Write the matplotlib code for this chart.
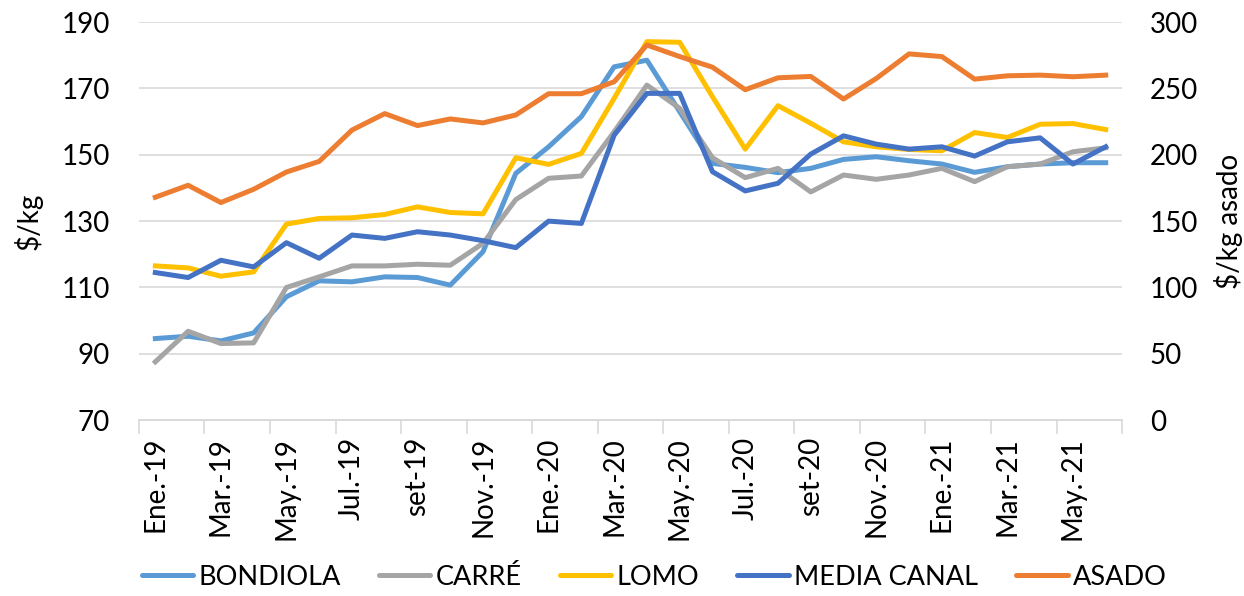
import matplotlib.pyplot as plt
import numpy as np

plt.rcParams['font.family'] = ['Lato', 'DejaVu Sans']

months = ["Ene.-19", "Feb.-19", "Mar.-19", "Abr.-19", "May.-19", "Jun.-19",
          "Jul.-19", "Ago.-19", "set-19", "Oct.-19", "Nov.-19", "Dic.-19",
          "Ene.-20", "Feb.-20", "Mar.-20", "Abr.-20", "May.-20", "Jun.-20",
          "Jul.-20", "Ago.-20", "set-20", "Oct.-20", "Nov.-20", "Dic.-20",
          "Ene.-21", "Feb.-21", "Mar.-21", "Abr.-21", "May.-21", "Jun.-21"]

bondiola = [94.6, 95.3, 93.9, 96.3, 107.2, 112.0, 111.7, 113.2, 113.0, 110.7,
            120.8, 144.4, 152.4, 161.5, 176.5, 178.5, 163.0, 147.4, 146.2, 144.6,
            145.9, 148.6, 149.4, 148.2, 147.2, 144.7, 146.4, 147.2, 147.6, 147.6]
carre = [87.6, 96.8, 93.1, 93.3, 110.0, 113.2, 116.5, 116.5, 117.0, 116.7,
         123.3, 136.5, 142.9, 143.6, 156.9, 171.0, 164.0, 149.1, 143.1, 145.9,
         138.8, 143.9, 142.6, 143.9, 145.9, 141.9, 146.4, 147.2, 150.9, 152.1]
lomo = [116.5, 115.9, 113.4, 114.7, 129.1, 130.8, 131.0, 132.0, 134.3, 132.6,
        132.2, 149.1, 147.1, 150.4, 167.0, 184.1, 183.9, 167.5, 151.7, 164.8,
        159.5, 153.9, 152.4, 151.6, 151.2, 156.7, 155.2, 159.2, 159.4, 157.6]
media_canal = [114.5, 113.0, 118.2, 116.2, 123.5, 118.8, 125.8, 124.8, 126.8, 125.8,
               124.1, 122.0, 130.0, 129.3, 155.9, 168.5, 168.5, 144.9, 139.1, 141.4,
               150.2, 155.7, 153.2, 151.7, 152.4, 149.6, 153.9, 155.1, 147.2, 152.4]
asado = [168, 177, 164, 174, 187, 195, 218.6, 231, 222, 227,
         224, 230, 246, 246, 255, 282.7, 274, 266, 249, 258,
         259, 242, 257.5, 276, 274, 257, 259.5, 260, 258.8, 260]

x = np.arange(len(months))

fig, ax = plt.subplots(figsize=(12.44, 5.96), dpi=100)
fig.subplots_adjust(left=0.1117, right=0.902, top=0.963, bottom=0.295)
ax2 = ax.twinx()

lw = 3.6
l1, = ax.plot(x, bondiola, color="#5B9BD5", lw=lw, label="BONDIOLA")
l2, = ax.plot(x, carre, color="#A5A5A5", lw=lw, label="CARRÉ")
l3, = ax.plot(x, lomo, color="#FFC000", lw=lw, label="LOMO")
l4, = ax.plot(x, media_canal, color="#4472C4", lw=lw, label="MEDIA CANAL")
l5, = ax2.plot(x, asado, color="#ED7D31", lw=lw, label="ASADO")

ax.set_xlim(-0.5, len(months) - 0.5)
ax.set_ylim(70, 190)
ax.set_yticks(np.arange(70, 191, 20))
ax2.set_ylim(0, 300)
ax2.set_yticks(np.arange(0, 301, 50))

ax.grid(axis="y", color="#D9D9D9", lw=1.2)
ax.set_axisbelow(True)

ax.set_xticks(x[::2])
ax.set_xticklabels(months[::2], rotation=90)
ax.set_xticks(np.arange(-0.5, len(months), 2), minor=True)
ax.tick_params(axis="x", which="major", length=0, pad=12, labelsize=20)
ax.tick_params(axis="x", which="minor", length=10, color="#D9D9D9", width=1.2)
ax.tick_params(axis="y", length=0, labelsize=20, pad=21)
ax2.tick_params(axis="y", length=0, labelsize=20, pad=20)

for a in (ax, ax2):
    for s in ("top", "left", "right"):
        a.spines[s].set_visible(False)
    a.spines["bottom"].set_color("#D9D9D9")
    a.spines["bottom"].set_linewidth(1.2)

ax.set_ylabel("$/kg", fontsize=20)
ax2.set_ylabel("$/kg asado", fontsize=20)
ax.yaxis.set_label_coords(-0.098, 0.5)
ax2.yaxis.set_label_coords(1.093, 0.5)

leg = fig.legend(handles=[l1, l2, l3, l4, l5], loc="lower center", ncol=5,
                 bbox_to_anchor=(0.526, -0.03), frameon=False, fontsize=19.5,
                 handlelength=1.9, handletextpad=0.2, columnspacing=1.4)
for h in leg.get_lines():
    h.set_solid_capstyle("round")

fig.savefig("out.png", dpi=100)
